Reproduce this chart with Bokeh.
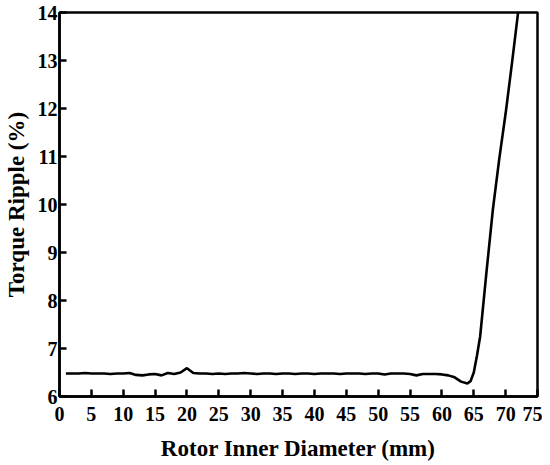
from bokeh.plotting import figure
from bokeh.embed import file_html
from bokeh.resources import INLINE
from bokeh.models import Range1d, FixedTicker

diameter = [1, 2, 3, 4, 5, 6, 7, 8, 9, 10, 11, 12, 13, 14, 15, 16, 17, 18, 19, 20,
            21, 22, 23, 24, 25, 26, 27, 28, 29, 30, 31, 32, 33, 34, 35, 36, 37, 38, 39, 40,
            41, 42, 43, 44, 45, 46, 47, 48, 49, 50, 51, 52, 53, 54, 55, 56, 57, 58, 59, 60,
            61, 62, 63, 64, 64.5, 65, 65.5, 66, 67, 68, 69, 70, 71, 72]
ripple = [6.48, 6.48, 6.48, 6.49, 6.48, 6.48, 6.48, 6.47, 6.48, 6.48, 6.49, 6.45, 6.44, 6.46, 6.47, 6.44, 6.49, 6.47, 6.50, 6.59,
          6.49, 6.48, 6.48, 6.47, 6.48, 6.47, 6.48, 6.48, 6.49, 6.48, 6.47, 6.48, 6.48, 6.47, 6.48, 6.48, 6.47, 6.48, 6.48, 6.47,
          6.48, 6.48, 6.48, 6.47, 6.48, 6.48, 6.48, 6.47, 6.48, 6.48, 6.46, 6.48, 6.48, 6.48, 6.47, 6.44, 6.47, 6.47, 6.47, 6.46,
          6.44, 6.40, 6.31, 6.27, 6.32, 6.50, 6.85, 7.25, 8.6, 9.9, 10.95, 11.9, 12.95, 14.05]

x_ticks = [0, 5, 10, 15, 20, 25, 30, 35, 40, 45, 50, 55, 60, 65, 70, 75]
y_ticks = [6, 7, 8, 9, 10, 11, 12, 13, 14]

FONT = "Liberation Serif"

p = figure(width=542, height=463, output_backend="svg", toolbar_location=None,
           x_range=Range1d(0, 75), y_range=Range1d(6, 14),
           min_border_left=40, min_border_right=5, min_border_top=12, min_border_bottom=40)

p.line(diameter, ripple, line_color="black", line_width=2.6)

p.xgrid.visible = False
p.ygrid.visible = False
p.outline_line_color = "black"
p.outline_line_width = 2.5
p.outline_line_alpha = 1.0

for ax in (p.xaxis[0], p.yaxis[0]):
    ax.axis_line_width = 2.5
    ax.major_tick_in = 7
    ax.major_tick_out = 0
    ax.major_tick_line_width = 2.5
    ax.minor_tick_line_color = None
    ax.major_label_text_font = FONT
    ax.major_label_text_font_style = "bold"
    ax.major_label_text_font_size = "20px"
    ax.major_label_text_color = "black"
    ax.axis_label_text_font = FONT
    ax.axis_label_text_font_style = "bold"
    ax.axis_label_text_font_size = "23px"
    ax.axis_label_text_color = "black"

p.xaxis.ticker = FixedTicker(ticks=x_ticks)
p.yaxis.ticker = FixedTicker(ticks=y_ticks)
p.xaxis.axis_label = "Rotor Inner Diameter (mm)"
p.yaxis.axis_label = "Torque Ripple (%)"
p.xaxis.major_label_standoff = 10
p.yaxis.major_label_standoff = 2
p.xaxis.axis_label_standoff = 12
p.yaxis.axis_label_standoff = 6

open("out.html", "w").write(file_html(p, INLINE))
